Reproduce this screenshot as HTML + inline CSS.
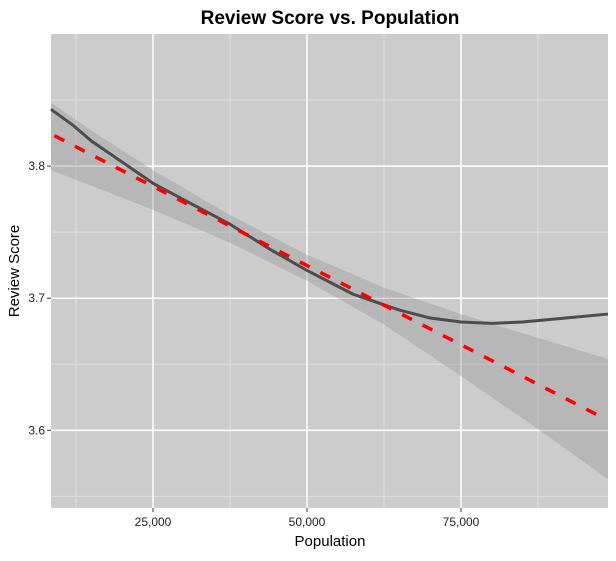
<!DOCTYPE html>
<html><head><meta charset="utf-8"><style>
body{margin:0;background:#fff;width:616px;height:556px;overflow:hidden}
svg{font-family:"Liberation Sans",Arial,sans-serif}
</style></head><body>
<svg id="chart" width="616" height="556">
<text x="330" y="24" text-anchor="middle" font-size="19" font-weight="bold">Review Score vs. Population</text>
<rect x="51" y="34" width="557" height="474" fill="#cccccc"/>
<g id="grid"></g><g id="marks"></g><g id="axes"></g>
<text x="330" y="546" text-anchor="middle" font-size="15">Population</text>
<text transform="translate(19,271) rotate(-90)" text-anchor="middle" font-size="15">Review Score</text>
</svg>
<script>
const xTicks=[25000,50000,75000];
const xTickLabels=["25,000","50,000","75,000"];
const xMinor=[12500,37500,62500,87500];
const yTicks=[3.6,3.7,3.8];
const yTickLabels=["3.6","3.7","3.8"];
const yMinor=[3.55,3.65,3.75,3.85];
const bandX=[8440,15000,25000,37500,50000,62500,75000,87500,98860];
const bandUpper=[3.848,3.827,3.797,3.763,3.733,3.708,3.688,3.670,3.654];
const bandLower=[3.797,3.785,3.767,3.742,3.713,3.680,3.641,3.601,3.563];
const linX=[9000,97000];
const linY=[3.823,3.612];
const loessX=[8440,12000,15000,20000,25000,31000,37500,44000,50000,57500,65000,70000,75000,80000,85000,92000,98860];
const loessY=[3.843,3.831,3.819,3.803,3.787,3.772,3.756,3.737,3.721,3.703,3.691,3.685,3.682,3.681,3.682,3.685,3.688];
const L=51,R=608,T=34,B=508,X0=8440,X1=98860,Y0=3.5412,Y1=3.9;
const sx=v=>L+(v-X0)/(X1-X0)*(R-L);
const sy=v=>B-(v-Y0)/(Y1-Y0)*(B-T);
const NS="http://www.w3.org/2000/svg";
function mk(p,t,a){const e=document.createElementNS(NS,t);for(const k in a)e.setAttribute(k,a[k]);p.appendChild(e);return e;}
const grid=document.getElementById('grid'),marks=document.getElementById('marks'),axes=document.getElementById('axes');
xMinor.forEach(v=>{const e=mk(grid,'line',{x1:sx(v),x2:sx(v),y1:T,y2:B,stroke:'#e0e0e0','stroke-width':1});

});
yMinor.forEach(v=>{const e=mk(grid,'line',{x1:L,x2:R,y1:sy(v),y2:sy(v),stroke:'#e0e0e0','stroke-width':1});

});
xTicks.forEach((v,i)=>{const e=mk(grid,'line',{x1:sx(v),x2:sx(v),y1:T,y2:B,stroke:'#fff','stroke-width':1.5});


const t=mk(axes,'line',{x1:sx(v),x2:sx(v),y1:B,y2:B+4,stroke:'#333'});


const l=mk(axes,'text',{x:sx(v),y:B+18,'text-anchor':'middle','font-size':12,fill:'#222'});l.textContent=xTickLabels[i];

});
yTicks.forEach((v,i)=>{const e=mk(grid,'line',{x1:L,x2:R,y1:sy(v),y2:sy(v),stroke:'#fff','stroke-width':1.5});


const t=mk(axes,'line',{x1:L-4,x2:L,y1:sy(v),y2:sy(v),stroke:'#333'});


const l=mk(axes,'text',{x:L-6,y:sy(v)+4,'text-anchor':'end','font-size':12,fill:'#222'});l.textContent=yTickLabels[i];

});
let pts=bandX.map((x,i)=>sx(x)+','+sy(bandUpper[i]));
pts=pts.concat(bandX.map((x,i)=>sx(x)+','+sy(bandLower[i])).reverse());
const band=mk(marks,'polygon',{points:pts.join(' '),fill:'#999','fill-opacity':0.4});


const lo=mk(marks,'polyline',{points:loessX.map((x,i)=>sx(x)+','+sy(loessY[i])).join(' '),fill:'none',stroke:'#4d4d4d','stroke-width':3,'stroke-linejoin':'round'});


const li=mk(marks,'polyline',{points:linX.map((x,i)=>sx(x)+','+sy(linY[i])).join(' '),fill:'none',stroke:'#ff0000','stroke-width':3.5,'stroke-dasharray':'11,12'});


</script>
</body></html>
